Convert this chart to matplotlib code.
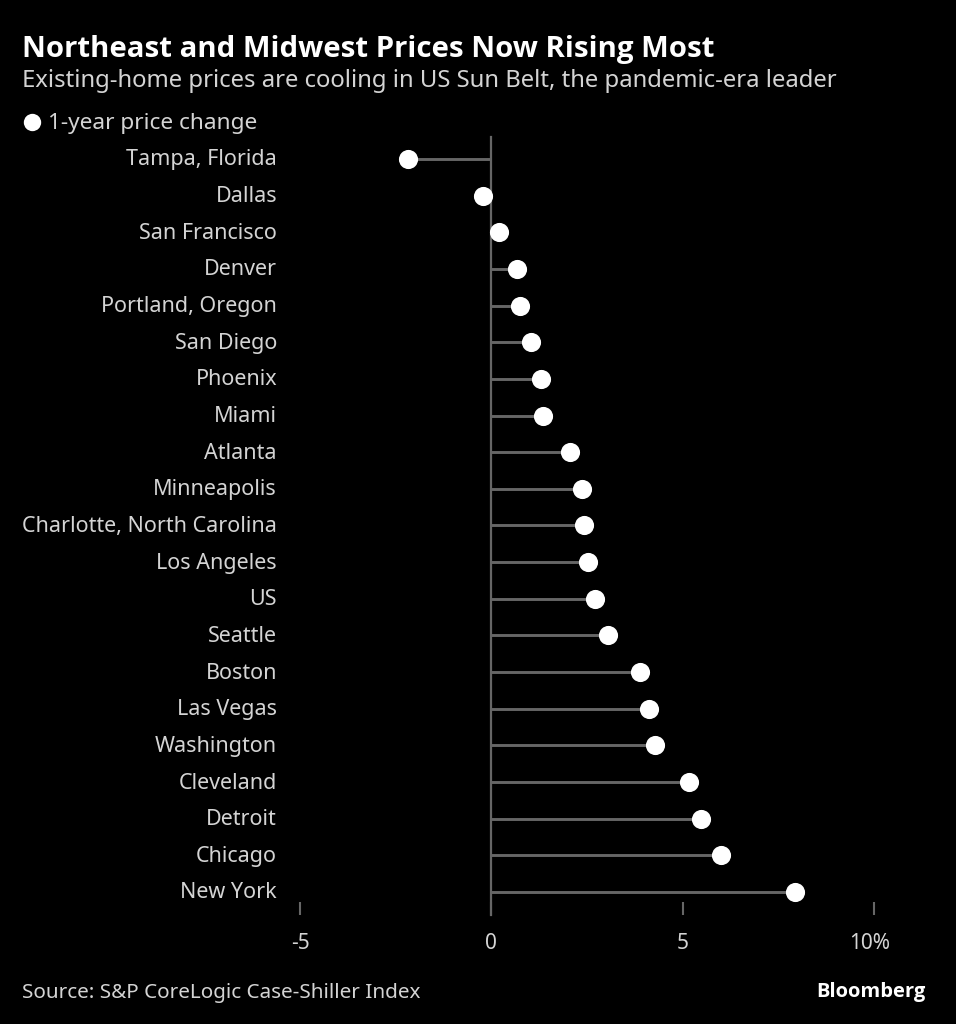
import matplotlib.pyplot as plt
from matplotlib.transforms import ScaledTranslation

cities = ['Tampa, Florida', 'Dallas', 'San Francisco', 'Denver', 'Portland, Oregon',
          'San Diego', 'Phoenix', 'Miami', 'Atlanta', 'Minneapolis',
          'Charlotte, North Carolina', 'Los Angeles', 'US', 'Seattle', 'Boston',
          'Las Vegas', 'Washington', 'Cleveland', 'Detroit', 'Chicago', 'New York']
change = [-2.19, -0.22, 0.19, 0.66, 0.74, 1.03, 1.29, 1.36, 2.05, 2.36, 2.41,
          2.52, 2.70, 3.04, 3.88, 4.11, 4.27, 5.16, 5.47, 6.00, 7.93]
xticks = [-5, 0, 5, 10]
xticklabels = ['-5', '0', '5', '10%']

W, H = 956, 1024
GREY = '#666666'
TEXT = '#d4d4d4'

plt.rcParams['font.family'] = 'Noto Sans'
fig = plt.figure(figsize=(W / 100, H / 100), dpi=100, facecolor='black')

# axes in pixels: x -5..10 is 300..874, rows run 159..892 with 36.65 px spacing
top, bottom = 137, 902
ax = fig.add_axes([300 / W, 1 - bottom / H, (874 - 300) / W, (bottom - top) / H], facecolor='black')
ax.set_xlim(-5, 10)
ax.set_ylim((bottom - 159) / 36.65, (top - 159) / 36.65)

rows = list(range(len(cities)))
ax.hlines(rows, 0, change, color=GREY, lw=2.1, zorder=2)
ax.axvline(0, color=GREY, lw=1.6, zorder=2, clip_on=False, ymin=-13 / (bottom - top), ymax=1)
ax.scatter(change, rows, s=190, color='white', linewidths=0, zorder=3, clip_on=False)

for s in ax.spines.values():
    s.set_visible(False)
ax.set_xticks(xticks)
ax.set_xticklabels(xticklabels, fontsize=15, color=TEXT)
ax.tick_params(axis='x', color=GREY, width=1.5, length=9.5, pad=13, direction='out')
ax.set_yticks(rows)
ax.set_yticklabels(cities, fontsize=15.5, color=TEXT)
ax.tick_params(axis='y', length=0, pad=0)

# row labels end at 277 px and sit a little above their rows
shift = ScaledTranslation(-23 / 100, 1.5 / 100, fig.dpi_scale_trans)
for lab in ax.get_yticklabels():
    lab.set_transform(lab.get_transform() + shift)
ax.get_xticklabels()[-1].set_transform(
    ax.get_xticklabels()[-1].get_transform() + ScaledTranslation(-4 / 100, 0, fig.dpi_scale_trans))

fig.text(22 / W, 1 - 50 / H, 'Northeast and Midwest Prices Now Rising Most', color='white',
         family='Open Sans', fontsize=21.2, fontweight='bold', va='center', ha='left')
fig.text(22 / W, 1 - 81 / H, 'Existing-home prices are cooling in US Sun Belt, the pandemic-era leader',
         color=TEXT, fontsize=17.2, va='center', ha='left')

fig.add_artist(plt.Line2D([32 / W], [1 - 122 / H], marker='o', ms=12.5, color='white', mew=0,
                          linestyle='none', transform=fig.transFigure))
fig.text(48 / W, 1 - 123 / H, '1-year price change', color=TEXT, fontsize=16.3, va='center', ha='left')

fig.text(22 / W, 1 - 993 / H, 'Source: S&P CoreLogic Case-Shiller Index', color=TEXT,
         fontsize=14.9, va='center', ha='left')
fig.text(926 / W, 1 - 992 / H, 'Bloomberg', color='white', family='Open Sans', fontsize=14.5,
         fontweight='bold', va='center', ha='right')

fig.savefig('out.png', dpi=100, facecolor='black')
